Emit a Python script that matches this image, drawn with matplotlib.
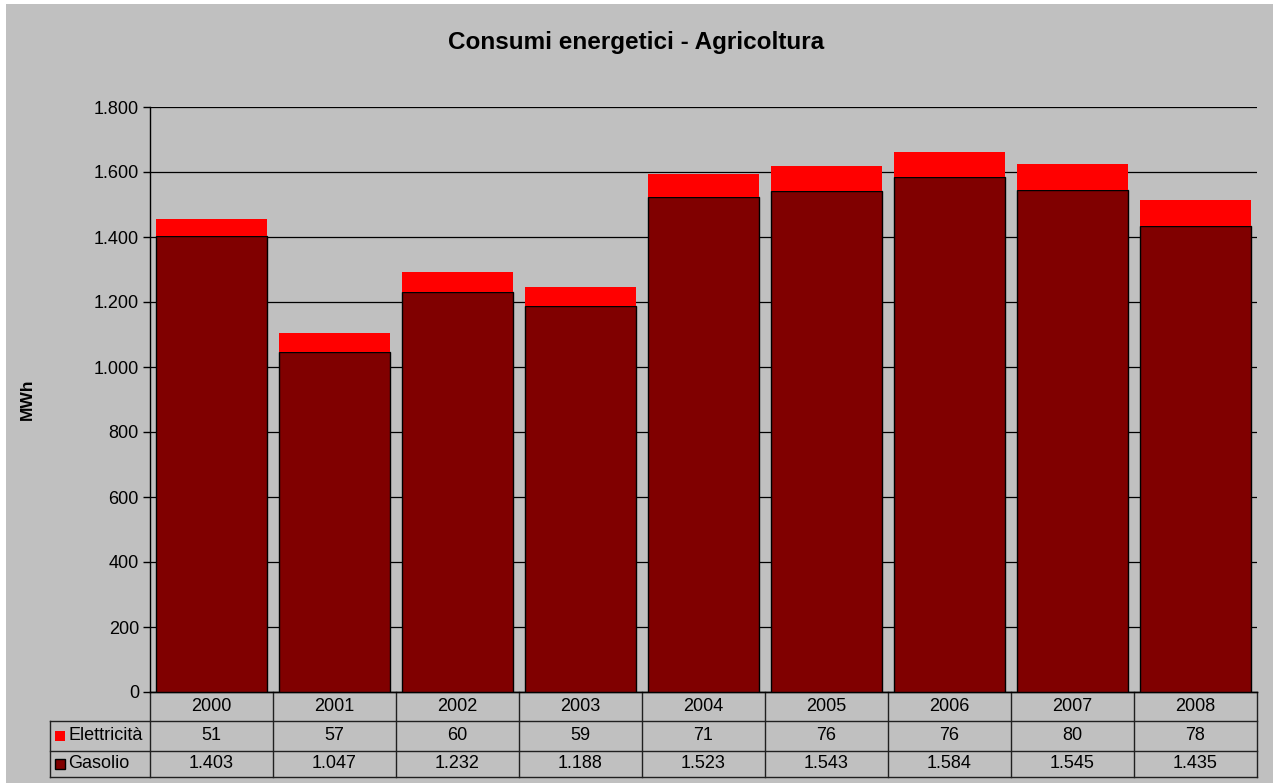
import matplotlib.pyplot as plt
from matplotlib.patches import Rectangle
from matplotlib.lines import Line2D

plt.rcParams['font.family'] = ['Liberation Sans', 'DejaVu Sans']

# dati
anni = ['2000', '2001', '2002', '2003', '2004', '2005', '2006', '2007', '2008']
gasolio = [1403, 1047, 1232, 1188, 1523, 1543, 1584, 1545, 1435]
elettricita = [51, 57, 60, 59, 71, 76, 76, 80, 78]
y_ticks = [0, 200, 400, 600, 800, 1000, 1200, 1400, 1600, 1800]

GRIGIO = '#C0C0C0'
ROSSO_SCURO = '#800000'
ROSSO = '#FF0000'
FS = 13


def fmt_it(v):
    '''formato numerico italiano con punto per le migliaia'''
    return f'{v:,}'.replace(',', '.')


fig = plt.figure(figsize=(12.73, 7.83), dpi=100)
fig.patch.set_facecolor('white')
# sfondo grigio del grafico (margine bianco a sinistra e in alto)
fig.patches.append(Rectangle((6 / 1273, 0), 1, 1 - 4 / 783,
                             transform=fig.transFigure, facecolor=GRIGIO,
                             edgecolor='none', zorder=-10))

ax = fig.add_axes([150 / 1273, 1 - 692 / 783, 1107 / 1273, 585 / 783])
ax.set_facecolor(GRIGIO)

x = list(range(len(anni)))
ax.bar(x, gasolio, width=0.9, color=ROSSO_SCURO, edgecolor='black',
       linewidth=1, zorder=3)
ax.bar(x, elettricita, bottom=gasolio, width=0.9, color=ROSSO,
       edgecolor='none', zorder=3)

ax.set_xlim(-0.5, len(anni) - 0.5)
ax.set_ylim(0, 1800)
ax.set_yticks(y_ticks)
ax.set_yticklabels([fmt_it(v) for v in y_ticks], fontsize=FS)
ax.tick_params(axis='y', direction='out', length=5, width=1, pad=3)
ax.set_xticks([])
ax.yaxis.grid(True, color='black', linewidth=0.9, zorder=0)

for side in ['top', 'right']:
    ax.spines[side].set_visible(False)
ax.spines['left'].set_linewidth(1)
ax.spines['bottom'].set_linewidth(1)

ax.set_ylabel('MWh', fontsize=12.5, fontweight='bold')
ax.yaxis.set_label_coords(-115 / 1107, 0.5)
fig.suptitle('Consumi energetici - Agricoltura', fontsize=17.5,
             fontweight='bold', y=1 - 43 / 783, va='center')

# tabella dati sotto il grafico
tr = ax.get_xaxis_transform()
righe = [0, -29 / 585, -59 / 585, -85 / 585]
x_left_col = -0.5 - 100 / 123
lw = 1

# linee orizzontali
for i, yy in enumerate(righe):
    x0 = -0.5 if i == 0 else x_left_col
    ax.add_line(Line2D([x0, len(anni) - 0.5], [yy, yy], transform=tr,
                       color='#202020', linewidth=lw, clip_on=False))
# linee verticali
for k in range(len(anni) + 1):
    ax.add_line(Line2D([k - 0.5, k - 0.5], [righe[0], righe[-1]], transform=tr,
                       color='#202020', linewidth=lw, clip_on=False))
ax.add_line(Line2D([x_left_col, x_left_col], [righe[1], righe[-1]], transform=tr,
                   color='#202020', linewidth=lw, clip_on=False))

valori_righe = [anni,
                [fmt_it(v) for v in elettricita],
                [fmt_it(v) for v in gasolio]]
for r, vals in enumerate(valori_righe):
    yc = (righe[r] + righe[r + 1]) / 2
    for k, testo in enumerate(vals):
        ax.text(k, yc, testo, transform=tr, ha='center', va='center',
                fontsize=FS, clip_on=False)

# etichette serie con chiave colore
serie = [('Elettricità', ROSSO, 'none'), ('Gasolio', ROSSO_SCURO, 'black')]
for r, (nome, col, bordo) in enumerate(serie, start=1):
    yc = (righe[r] + righe[r + 1]) / 2
    kh = 10 / 585
    ax.add_patch(Rectangle((x_left_col + 5 / 123, yc - kh / 2), 10 / 123, kh,
                           transform=tr, facecolor=col, edgecolor=bordo,
                           linewidth=1, clip_on=False))
    ax.text(x_left_col + 18 / 123, yc, nome, transform=tr, ha='left',
            va='center', fontsize=FS, clip_on=False)

fig.savefig('out.png', dpi=100, facecolor=fig.get_facecolor())
